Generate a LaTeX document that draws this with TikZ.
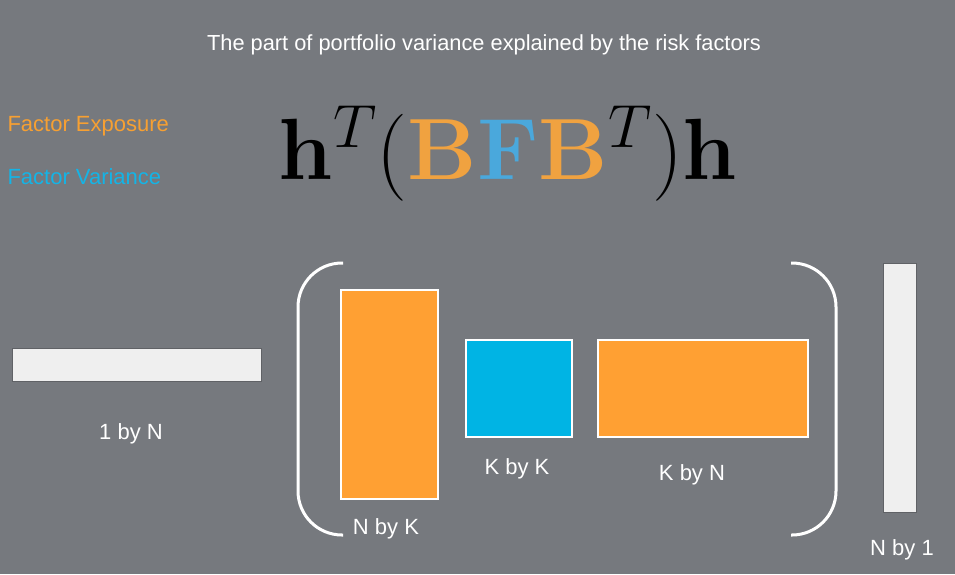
\RequirePackage{fix-cm}
\documentclass[tikz,border=0pt]{standalone}
\usepackage{amsmath}
\usepackage{xcolor}
\usepackage[no-math]{fontspec}
\setmainfont{Liberation Sans}
\usepackage{tikz}
\usetikzlibrary{positioning}
\definecolor{slidegray}  {RGB}{118,121,126}
\definecolor{rectorange} {RGB}{255,160,51}
\definecolor{rectblue}   {RGB}{0,180,228}
\definecolor{textorange} {RGB}{247,160,50}
\definecolor{textblue}   {RGB}{20,180,230}
\definecolor{mathorange} {RGB}{240,162,64}
\definecolor{mathblue}   {RGB}{74,168,220}
\definecolor{vecfill}    {RGB}{239,239,239}
\definecolor{vecdraw}    {RGB}{96,98,102}
\newcommand{\mB}{\textcolor{mathorange}{\mathbf{B}}}
\newcommand{\mF}{\textcolor{mathblue}{\mathbf{F}}}

\begin{document}
\begin{tikzpicture}[
  x=1pt,y=-1pt,
  box/.style={draw=white,line width=2pt,inner sep=0pt},
  Bbox/.style={box,fill=rectorange},
  Fbox/.style={box,fill=rectblue},
  vec/.style={draw=vecdraw,line width=1pt,fill=vecfill,inner sep=0pt},
  dim/.style={font=\fontsize{22}{26}\selectfont,text=white},
  legend/.style={font=\fontsize{22}{26}\selectfont,anchor=west},
  paren/.style={draw=white,line width=3pt,rounded corners=44pt},
]

%% ── Background ─────────────────────────────────────────────────────────────
\fill[slidegray] (0,0) rectangle (955,574);
\useasboundingbox (0,0) rectangle (955,574);

%% ── Title and formula ──────────────────────────────────────────────────────
\node[text=white,font=\fontsize{21.8}{26}\selectfont] (title) at (484,45)
  {The part of portfolio variance explained by the risk factors};
\node[font=\fontsize{87}{94}\selectfont,anchor=base,inner sep=0pt]
  (formula) at (508,179)
  {$\mathbf{h}^{T}(\mB\mF\mB^{T})\mathbf{h}$};

%% ── Legend ────────────────────────────────────────────────────────────────
\node[legend,text=textorange] (expo) at (4,126) {Factor Exposure};
\node[legend,text=textblue]   (fvar) at (4,177) {Factor Variance};

%% ── Row vector h^T ─────────────────────────────────────────────────────────
\node[vec,minimum width=249pt,minimum height=33pt] (hT) at (137,365) {};
\node[dim] (hTlab) at (131,434) {1 by N};

%% ── Matrices B, F, B^T ────────────────────────────────────────────────────
\node[Bbox,minimum width=97pt,minimum height=209pt] (B) at (389.5,394.5) {};
\node[dim] (Blab) at (386,529) {N by K};

\node[Fbox,minimum width=106pt,minimum height=97pt] (F) at (518.5,388) {};
\node[dim] (Flab) at (517,469) {K by K};

\node[Bbox,minimum width=210pt,minimum height=97pt] (BT) at (702.5,388) {};
\node[dim] (BTlab) at (692,475) {K by N};

%% ── Column vector h ────────────────────────────────────────────────────────
\node[vec,minimum width=33pt,minimum height=249pt] (h) at (900,388) {};
\node[dim] (hlab) at (902,550) {N by 1};

%% ── Brackets round BFB^T ──────────────────────────────────────────────────
\draw[paren] (343,263) -- (298,263) -- (298,535) -- (343,535);
\draw[paren] (791,263) -- (836,263) -- (836,535) -- (791,535);

\end{tikzpicture}
\end{document}
